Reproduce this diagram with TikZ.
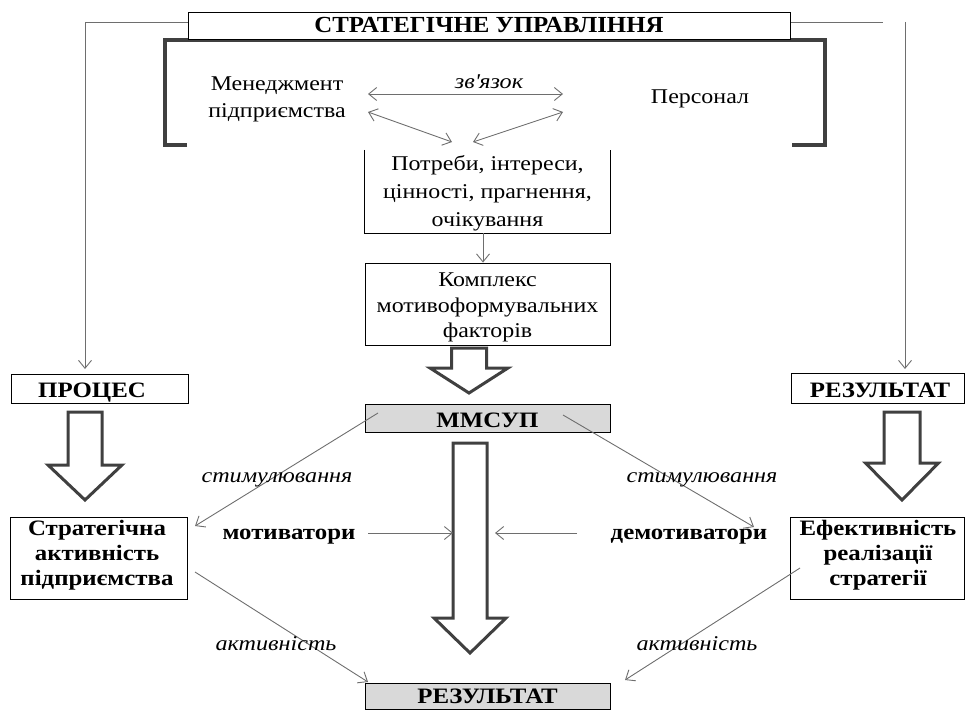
\documentclass[tikz,border=0pt]{standalone}
\usepackage{fontspec}
\setmainfont{Liberation Serif}
\newfontfamily\regfont[FakeStretch=1.14]{Liberation Serif}
\newfontfamily\boldfont[FakeStretch=1.13]{Liberation Serif}
\newfontfamily\titlefont[FakeStretch=1.08]{Liberation Serif}
\newfontfamily\itfont[FakeStretch=1.15]{Liberation Serif}
\usetikzlibrary{arrows.meta}
\definecolor{connc}{HTML}{6E6E6E}
\definecolor{thickc}{HTML}{404040}
\definecolor{boxgray}{HTML}{D9D9D9}
\newcommand{\hollowarr}[6]{% cx, top, shaft half, head start, head half, tip
  \draw[hollow] (#1-#3,#2) -- (#1+#3,#2) -- (#1+#3,#4) -- (#1+#5,#4) -- (#1,#6) -- (#1-#5,#4) -- (#1-#3,#4) -- cycle;}
\begin{document}
\begin{tikzpicture}[x=1pt,y=-1pt,
  box/.style={draw=black, line width=0.9pt, inner sep=0pt},
  txt/.style={inner sep=0pt, anchor=base, font=\regfont\fontsize{21}{27}\selectfont},
  btxt/.style={inner sep=0pt, anchor=base, font=\boldfont\fontsize{22}{25}\selectfont\bfseries},
  ttxt/.style={inner sep=0pt, anchor=base, font=\titlefont\fontsize{23}{25}\selectfont\bfseries},
  itxt/.style={inner sep=0pt, anchor=base, font=\itfont\fontsize{21}{24}\selectfont\itshape},
  cline/.style={draw=connc, line width=0.9pt},
  carrow/.style={cline, -{Straight Barb[length=8pt,width=13pt]}},
  cboth/.style={cline, {Straight Barb[length=8pt,width=13pt]}-{Straight Barb[length=8pt,width=13pt]}},
  hollow/.style={draw=thickc, line width=3pt, fill=white, line join=miter}
]
\useasboundingbox (0,0) rectangle (965,709);

% feed lines from the title
\coordinate (lf1) at (197,22);
\coordinate (lf2) at (85,22);
\coordinate (lf3) at (85,369);
\coordinate (rf1) at (765,22);
\coordinate (rf2) at (883,22);
\coordinate (rv1) at (905,22);
\coordinate (rv2) at (905,369);
\draw[cline] (lf1) -- (lf2);
\draw[carrow] (lf2) -- (lf3);
\draw[cline] (rf1) -- (rf2);
\draw[carrow] (rv1) -- (rv2);

% bracket
\draw[draw=thickc, line width=3.5pt, line join=miter]
  (187,145) -- (165,145) -- (165,40) -- (825,40) -- (825,145) -- (792,145);

% title
\node[box, fill=white, minimum width=602, minimum height=27] (title) at (489,25.5) {};
\node[ttxt] (titleT) at (489,33) {СТРАТЕГІЧНЕ УПРАВЛІННЯ};

% inner texts
\node[txt] (mgmt1) at (277,90) {Менеджмент};
\node[txt] (mgmt2) at (277,117) {підприємства};
\node[txt] (pers) at (700,103) {Персонал};
\node[itxt] (zv) at (489,88) {зв\textquotesingle язок};

\coordinate (d1a) at (368,94);
\coordinate (d1b) at (563,94);
\coordinate (d2a) at (368,112);
\coordinate (d2b) at (452,142);
\coordinate (d3a) at (563,112);
\coordinate (d3b) at (473,142);
\draw[cboth] (d1a) -- (d1b);
\draw[cboth] (d2a) -- (d2b);
\draw[cboth] (d3a) -- (d3b);

% needs box (open top)
\node[inner sep=0pt, minimum width=245, minimum height=83] (needs) at (487.5,191.5) {};
\draw[line width=0.9pt] (needs.north west) -- (needs.south west) -- (needs.south east) -- (needs.north east);
\node[txt] (needs1) at (487.5,170) {Потреби, інтереси,};
\node[txt] (needs2) at (487.5,198) {цінності, прагнення,};
\node[txt] (needs3) at (487.5,226) {очікування};

% complex box
\node[box, minimum width=245, minimum height=82] (compl) at (487.5,304) {};
\node[txt] (compl1) at (487.5,286) {Комплекс};
\node[txt] (compl2) at (487.5,312) {мотивоформувальних};
\node[txt] (compl3) at (487.5,337) {факторів};
\draw[carrow] (needs.south -| 483,0) -- (compl.north -| 483,0);

% hollow arrow to MMSUP
\hollowarr{469}{348}{17.5}{368}{39}{393}

% MMSUP
\node[box, fill=boxgray, minimum width=245, minimum height=28] (mmsup) at (487.5,418) {};
\node[btxt] (mmsupT) at (487.5,427) {ММСУП};

% side boxes
\node[box, minimum width=177, minimum height=29] (proc) at (99.5,388.5) {};
\node[btxt] (procT) at (92,397) {ПРОЦЕС};
\node[box, minimum width=173, minimum height=30] (resr) at (877.5,388) {};
\node[btxt] (resrT) at (880,397) {РЕЗУЛЬТАТ};

\hollowarr{85}{412}{17}{465}{37}{500}
\hollowarr{902}{412}{18}{463}{36.5}{500}

% central hollow arrow
\hollowarr{470}{443}{17}{618}{36}{653}

% bottom side boxes
\node[box, minimum width=177, minimum height=82] (strat) at (98.5,558) {};
\node[btxt] (strat1) at (97,535) {Стратегічна};
\node[btxt] (strat2) at (97,560) {активність};
\node[btxt] (strat3) at (97,585) {підприємства};
\node[box, minimum width=174, minimum height=82] (efek) at (877,558) {};
\node[btxt] (efek1) at (878,535) {Ефективність};
\node[btxt] (efek2) at (878,560) {реалізації};
\node[btxt] (efek3) at (878,585) {стратегії};

% motivators
\node[btxt] (mot) at (289,539) {мотиватори};
\node[btxt] (demot) at (689,539) {демотиватори};
\coordinate (m1) at (368,533);
\coordinate (m2) at (453,533);
\coordinate (n1) at (577,533);
\coordinate (n2) at (495,533);
\draw[carrow] (m1) -- (m2);
\draw[carrow] (n1) -- (n2);

% stimulation arrows
\coordinate (s1a) at (378,413);
\coordinate (s1b) at (195,526);
\coordinate (s2a) at (563,415);
\coordinate (s2b) at (754,527);
\draw[carrow] (s1a) -- (s1b);
\draw[carrow] (s2a) -- (s2b);
\node[itxt] (st1) at (277,482) {стимулювання};
\node[itxt] (st2) at (702,482) {стимулювання};

% bottom result
\node[box, fill=boxgray, minimum width=245, minimum height=26] (resb) at (487.5,696) {};
\node[btxt] (resbT) at (487.5,703) {РЕЗУЛЬТАТ};

% activity arrows
\coordinate (a1a) at (195,572);
\coordinate (a1b) at (368,682);
\coordinate (a2a) at (800,568);
\coordinate (a2b) at (625,680);
\draw[carrow] (a1a) -- (a1b);
\draw[carrow] (a2a) -- (a2b);
\node[itxt] (ac1) at (276,650) {активність};
\node[itxt] (ac2) at (697,650) {активність};
\end{tikzpicture}
\end{document}
